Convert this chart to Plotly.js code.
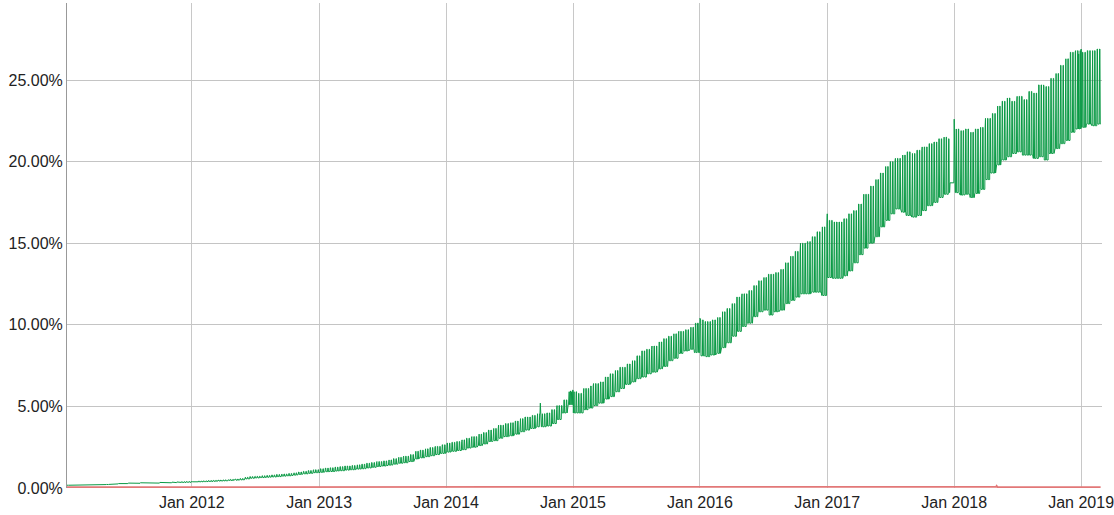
<!DOCTYPE html>
<html>
<head>
<meta charset="utf-8">
<script src="https://cdn.plot.ly/plotly-3.0.1.min.js"></script>
<style>
  html, body { margin: 0; padding: 0; background: #ffffff; }
  #chart { width: 1114px; height: 515px; }
</style>
</head>
<body>
<div id="chart"></div>
<script>
// ---- Data (percent) ----
// Half-month levels (1st-15th, 16th-end), Jan 2011 .. Feb 2019.
const firstYear = 2011;
const dataStart = '2011-01-07';
const dataEnd = '2019-02-26';

// Weekend (peak) level of the green series
const weekendPct = [
  0.18,0.19, 0.19,0.19, 0.20,0.20, 0.21,0.21, 0.22,0.22, 0.27,0.29, 0.30,0.31, 0.32,0.32, 0.33,0.33, 0.34,0.35, 0.36,0.37, 0.39,0.40,
  0.42,0.43, 0.44,0.46, 0.47,0.49, 0.50,0.53, 0.55,0.58, 0.66,0.70, 0.72,0.75, 0.77,0.80, 0.83,0.86, 0.89,0.93, 0.98,1.02, 1.07,1.12,
  1.18,1.22, 1.24,1.28, 1.31,1.35, 1.38,1.42, 1.46,1.52, 1.56,1.62, 1.66,1.72, 1.80,1.88, 1.95,2.05, 2.25,2.32, 2.40,2.48, 2.55,2.65,
  2.75,2.80, 2.85,2.95, 3.05,3.15, 3.30,3.40, 3.55,3.65, 3.85,3.95, 4.00,4.10, 4.25,4.35, 4.45,4.55, 4.55,4.60, 4.80,5.05, 5.40,5.90,
  5.90,5.80, 6.10,6.25, 6.40,6.50, 6.80,7.00, 7.20,7.40, 7.60,7.80, 8.10,8.40, 8.50,8.70, 8.95,9.15, 9.30,9.45, 9.60,9.70, 9.85,10.1,
  10.3,10.2, 10.3,10.45, 10.8,11.0, 11.3,11.7, 11.9,12.1, 12.4,12.7, 12.9,13.1, 13.2,13.4, 13.8,14.2, 14.5,15.0, 15.1,15.4, 15.7,16.0,
  16.4,16.3, 16.3,16.5, 16.8,17.0, 17.4,18.0, 18.5,18.9, 19.3,19.7, 20.0,20.2, 20.4,20.6, 20.5,20.7, 20.9,21.1, 21.2,21.4, 21.5,21.4,
  22.0,21.9, 22.0,21.8, 22.0,22.1, 22.65,22.95, 23.4,23.7, 23.9,23.7, 24.0,23.8, 24.3,24.2, 24.7,24.6, 25.1,25.4, 25.9,26.3, 26.7,26.8,
  26.7,26.8, 26.8,26.9
];
// Weekday (trough) level of the green series
const weekdayPct = [
  0.17,0.17, 0.18,0.18, 0.19,0.19, 0.20,0.20, 0.21,0.21, 0.25,0.26, 0.27,0.28, 0.29,0.29, 0.30,0.30, 0.31,0.31, 0.32,0.33, 0.34,0.35,
  0.38,0.38, 0.39,0.40, 0.41,0.43, 0.44,0.46, 0.48,0.50, 0.56,0.60, 0.62,0.64, 0.66,0.68, 0.70,0.73, 0.75,0.79, 0.83,0.87, 0.90,0.94,
  0.96,1.00, 1.01,1.04, 1.06,1.10, 1.12,1.16, 1.18,1.23, 1.27,1.32, 1.35,1.40, 1.46,1.52, 1.55,1.62, 1.78,1.85, 1.92,1.98, 2.05,2.12,
  2.20,2.25, 2.30,2.35, 2.45,2.50, 2.60,2.70, 2.85,2.90, 3.05,3.15, 3.20,3.30, 3.45,3.55, 3.65,3.75, 3.75,3.80, 3.95,4.20, 4.60,5.10,
  4.60,4.60, 4.80,4.90, 5.05,5.20, 5.45,5.60, 5.90,6.10, 6.35,6.50, 6.70,6.80, 7.00,7.10, 7.30,7.45, 7.80,7.95, 8.25,8.40, 8.50,8.30,
  8.10,8.05, 8.15,8.25, 8.60,8.90, 9.30,9.60, 9.90,10.1, 10.5,10.8, 10.9,10.6, 10.8,10.9, 11.3,11.5, 11.7,11.9, 11.9,12.0, 12.0,11.8,
  12.9,12.85, 12.85,13.0, 13.3,13.8, 14.3,14.7, 15.0,15.4, 16.0,16.4, 16.8,17.1, 16.9,16.7, 16.6,16.7, 17.0,17.3, 17.5,17.8, 18.0,18.1,
  18.1,17.95, 18.0,17.8, 18.05,18.3, 18.9,19.3, 19.8,20.1, 20.3,20.5, 20.6,20.4, 20.4,20.2, 20.3,20.1, 20.5,20.8, 21.1,21.3, 21.8,22.0,
  22.1,22.3, 22.2,22.3
];
// Second (red) series, one value per month
const teredoPct = [
  0.05,0.05,0.05,0.05,0.05,0.05,0.05,0.05,0.05,0.05,0.05,0.05,
  0.05,0.05,0.05,0.05,0.05,0.05,0.05,0.05,0.05,0.05,0.05,0.05,
  0.05,0.05,0.05,0.05,0.05,0.05,0.05,0.05,0.05,0.05,0.05,0.05,
  0.05,0.05,0.05,0.05,0.05,0.05,0.05,0.05,0.05,0.05,0.05,0.05,
  0.05,0.05,0.05,0.05,0.05,0.05,0.05,0.05,0.05,0.05,0.05,0.05,
  0.05,0.05,0.05,0.05,0.05,0.05,0.05,0.05,0.05,0.05,0.05,0.05,
  0.05,0.05,0.05,0.05,0.05,0.05,0.05,0.05,0.05,0.05,0.05,0.05,
  0.05,0.05,0.05,0.05,0.05,0.05,0.05,0.05,0.05,0.05,0.05,0.05,
  0.05,0.05
];
// Individual days that stand out (holidays, spikes, flat gap)
const eventDates = [
  '2014-09-29','2014-12-24','2014-12-25','2014-12-31','2015-01-01',
  '2015-12-25','2016-01-01','2016-12-25','2017-01-01',
  '2017-12-20','2017-12-21','2017-12-22','2017-12-23','2017-12-24','2017-12-25',
  '2017-12-26','2017-12-27','2017-12-28','2017-12-29','2017-12-30','2017-12-31',
  '2018-01-01','2018-12-25','2019-01-01'
];
const eventPct = [
  5.20,5.85,5.95,6.00,6.00,
  10.1,10.40,16.00,16.80,
  18.7,18.7,18.7,18.7,18.7,18.7,
  18.7,18.7,18.7,18.7,18.7,18.7,
  22.60,26.60,26.90
];
const redEventDates = ['2018-05-02','2018-05-03','2018-05-04'];
const redEventPct = [0.08,0.13,0.08];

// ---- Build daily series from the arrays above ----
const evMap = {};
eventDates.forEach((d, i) => { evMap[d] = eventPct[i]; });
const redEvMap = {};
redEventDates.forEach((d, i) => { redEvMap[d] = redEventPct[i]; });

const xs = [], ys = [], ry = [];
let t = new Date(dataStart + 'T00:00:00Z');
const tEnd = new Date(dataEnd + 'T00:00:00Z');
while (t <= tEnd) {
  const iso = t.toISOString().slice(0, 10);
  const m = (t.getUTCFullYear() - firstYear) * 12 + t.getUTCMonth();
  const h = m * 2 + (t.getUTCDate() >= 16 ? 1 : 0);
  const dow = t.getUTCDay();
  let v = (dow === 0 || dow === 6) ? weekendPct[h] : weekdayPct[h];
  if (evMap[iso] !== undefined) v = evMap[iso];
  let r = teredoPct[m];
  if (redEvMap[iso] !== undefined) r = redEvMap[iso];
  xs.push(iso); ys.push(v); ry.push(r);
  t = new Date(t.getTime() + 86400000);
}

const tickFont = { family: 'Liberation Sans, Arial, Helvetica, sans-serif', size: 16, color: '#222222' };

const traces = [
  { x: xs, y: ys, type: 'scatter', mode: 'lines',
    line: { color: '#0a9a45', width: 1 }, hoverinfo: 'skip' },
  { x: xs, y: ry, type: 'scatter', mode: 'lines',
    line: { color: '#e27878', width: 1.8 }, hoverinfo: 'skip' }
];

const layout = {
  width: 1114, height: 515,
  margin: { l: 67, r: 12, t: 3, b: 27, pad: 0 },
  paper_bgcolor: '#ffffff', plot_bgcolor: '#ffffff',
  showlegend: false, hovermode: false,
  xaxis: {
    type: 'date', range: ['2011-01-07', '2019-03-02'],
    tick0: '2012-01-01', dtick: 'M12', tickformat: '%b %Y',
    showgrid: true, gridcolor: '#c8c8c8', gridwidth: 1,
    zeroline: false, showline: false, ticks: '',
    ticklabelstandoff: 3, ticklabeloverflow: 'allow',
    tickfont: tickFont
  },
  yaxis: {
    range: [0, 29.72], dtick: 5, tick0: 0,
    tickformat: '.2f', ticksuffix: '%',
    showgrid: true, gridcolor: '#c4c4c4', gridwidth: 1,
    zeroline: false, showline: true, linecolor: '#999999', linewidth: 1,
    ticks: '', tickfont: tickFont
  }
};

Plotly.newPlot('chart', traces, layout, { staticPlot: true, displayModeBar: false });
</script>
</body>
</html>
